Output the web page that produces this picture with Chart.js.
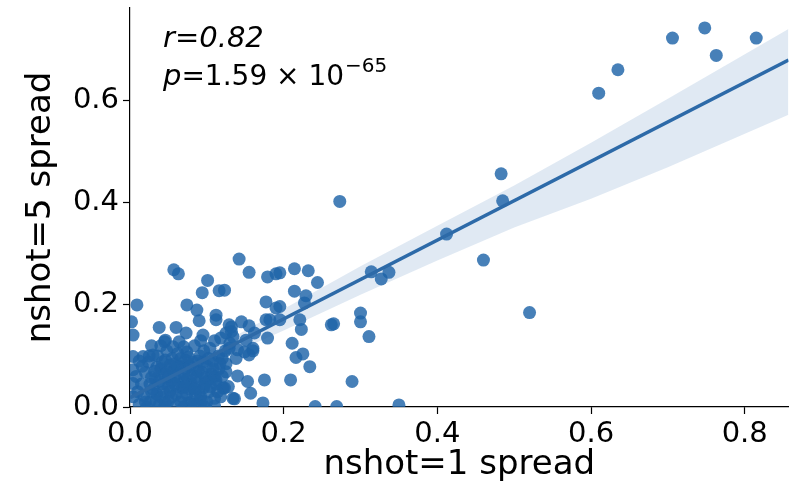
<!DOCTYPE html>
<html>
<head>
<meta charset="utf-8">
<script src="https://cdn.jsdelivr.net/npm/chart.js@4.4.1/dist/chart.umd.min.js"></script>
<style>
  html, body { margin: 0; padding: 0; background: #fff; }
  #wrap { width: 795px; height: 492px; }
</style>
</head>
<body>
<div id="wrap"><canvas id="spreadChart" width="795" height="492"></canvas></div>
<script>
// per-item spread, nshot=1 (x) against nshot=5 (y)
const spread1 = [
  0.610, 0.635, 0.706, 0.748, 0.763, 0.815, 0.273, 0.483, 0.485, 0.412,
  0.460, 0.520, 0.314, 0.327, 0.337, 0.300, 0.300, 0.265, 0.311, 0.289,
  0.269, 0.350, 0.241, 0.195, 0.214, 0.232, 0.244, 0.214, 0.229, 0.227,
  0.195, 0.195, 0.221, 0.223, 0.211, 0.216, 0.225, 0.234, 0.209, 0.142,
  0.155, 0.179, 0.190, 0.123, 0.177, 0.190, 0.177, 0.145, 0.129, 0.155,
  0.262, 0.057, 0.063, 0.101, 0.116, 0.094, 0.009, 0.074, 0.087, 0.112,
  0.090, 0.002, 0.038, 0.060, 0.179, 0.175, 0.140, 0.153, 0.125, 0.123,
  0.157, 0.136, 0.173, 0.132, 0.162, 0.149, 0.160, 0.140, 0.129, 0.073,
  0.095, 0.112, 0.125, 0.004, 0.045, 0.004, 0.004, 0.004, 0.004, 0.017,
  0.030, 0.046, 0.112, 0.121, 0.134, 0.110, 0.088, 0.134, 0.151, 0.160,
  0.155, 0.182, 0.132,
  // dense group near the origin
  0.012, 0.018, 0.015, 0.020, 0.024, 0.026, 0.030, 0.033, 0.035, 0.038,
  0.040, 0.042, 0.044, 0.046, 0.048, 0.050, 0.052, 0.054, 0.056, 0.058,
  0.060, 0.062, 0.064, 0.066, 0.068, 0.070, 0.072, 0.074, 0.076, 0.078,
  0.080, 0.082, 0.085, 0.087, 0.089, 0.091, 0.094, 0.096, 0.098, 0.100,
  0.103, 0.106, 0.108, 0.112, 0.116, 0.120, 0.118, 0.010, 0.008, 0.028,
  0.036, 0.056, 0.064, 0.084, 0.092, 0.104, 0.110, 0.124, 0.022, 0.045,
  0.070, 0.098, 0.040, 0.050, 0.060, 0.075, 0.090, 0.065, 0.080, 0.055,
  0.035, 0.028, 0.072, 0.086, 0.100, 0.110, 0.095, 0.115, 0.125, 0.138,
  0.130, 0.118,
  0.020, 0.028, 0.032, 0.038, 0.044, 0.046, 0.050, 0.054, 0.058, 0.062,
  0.066, 0.068, 0.070, 0.074, 0.078, 0.080, 0.083, 0.086, 0.088, 0.092,
  0.094, 0.097, 0.100, 0.102, 0.105, 0.108, 0.110, 0.114, 0.016, 0.025,
  0.042, 0.052, 0.062, 0.076, 0.096, 0.048, 0.034, 0.058, 0.072, 0.084,
  0.026, 0.012, 0.040, 0.070, 0.120, 0.128, 0.117
];
const spread5 = [
  0.615, 0.661, 0.723, 0.743, 0.689, 0.723, 0.403, 0.457, 0.404, 0.339,
  0.288, 0.185, 0.265, 0.251, 0.264, 0.184, 0.167, 0.163, 0.138, 0.050,
  0.001, 0.004, 0.001, 0.263, 0.271, 0.267, 0.244, 0.227, 0.218, 0.204,
  0.197, 0.171, 0.171, 0.152, 0.125, 0.097, 0.104, 0.079, 0.053, 0.290,
  0.264, 0.255, 0.261, 0.229, 0.206, 0.194, 0.171, 0.167, 0.161, 0.159,
  0.161, 0.269, 0.261, 0.248, 0.228, 0.224, 0.200, 0.200, 0.190, 0.180,
  0.169, 0.167, 0.156, 0.156, 0.135, 0.053, 0.061, 0.050, 0.069, 0.037,
  0.027, 0.016, 0.008, 0.148, 0.145, 0.108, 0.110, 0.112, 0.115, 0.145,
  0.141, 0.171, 0.145, 0.141, 0.128, 0.099, 0.073, 0.046, 0.020, 0.099,
  0.102, 0.131, 0.053, 0.037, 0.017, 0.017, 0.007, 0.138, 0.131, 0.115,
  0.102, 0.171, 0.157,
  0.005, 0.022, 0.045, 0.068, 0.088, 0.010, 0.035, 0.055, 0.078, 0.004,
  0.020, 0.045, 0.065, 0.092, 0.110, 0.012, 0.030, 0.050, 0.072, 0.085,
  0.002, 0.040, 0.060, 0.095, 0.020, 0.050, 0.075, 0.108, 0.008, 0.035,
  0.062, 0.088, 0.025, 0.048, 0.070, 0.100, 0.012, 0.038, 0.058, 0.080,
  0.030, 0.065, 0.090, 0.045, 0.075, 0.095, 0.020, 0.030, 0.060, 0.120,
  0.100, 0.118, 0.128, 0.120, 0.130, 0.115, 0.130, 0.110, 0.000, 0.000,
  0.000, 0.000, 0.075, 0.060, 0.025, 0.055, 0.030, 0.080, 0.010, 0.095,
  0.025, 0.058, 0.092, 0.072, 0.050, 0.060, 0.088, 0.100, 0.085, 0.095,
  0.125, 0.135,
  0.010, 0.030, 0.070, 0.050, 0.030, 0.008, 0.040, 0.020, 0.060, 0.078,
  0.010, 0.038, 0.065, 0.025, 0.080, 0.045, 0.005, 0.058, 0.090, 0.020,
  0.068, 0.045, 0.010, 0.095, 0.040, 0.075, 0.002, 0.030, 0.080, 0.100,
  0.088, 0.082, 0.105, 0.098, 0.110, 0.068, 0.012, 0.045, 0.040, 0.035,
  0.045, 0.090, 0.120, 0.118, 0.060, 0.040, 0.085
];

// regression line and its confidence band
const fitX = [0, 0.857];
const fitY = [0.018, 0.680];
const bandX = [0, 0.1, 0.2, 0.3, 0.4, 0.5, 0.6, 0.7, 0.857];
const bandLow = [-0.002, 0.083, 0.150, 0.220, 0.287, 0.352, 0.408, 0.470, 0.573];
const bandHigh = [0.036, 0.108, 0.192, 0.276, 0.355, 0.434, 0.518, 0.604, 0.741];

const xTicks = [0, 0.2, 0.4, 0.6, 0.8];
const yTicks = [0, 0.2, 0.4, 0.6];
const statR = '0.82';
const statP = '1.59';
const statExp = '\u221265';

const FONT = '"DejaVu Sans", "Liberation Sans", sans-serif';
Chart.defaults.font.family = FONT;
Chart.defaults.color = '#000';

const pointColor = 'rgba(30, 100, 168, 0.82)';
const lineColor = '#2d6aa8';
const bandColor = 'rgba(50, 110, 175, 0.15)';

const points = spread1.map((x, i) => ({ x: x, y: spread5[i] }));
const fitLine = fitX.map((x, i) => ({ x: x, y: fitY[i] }));
const bandUpper = bandX.map((x, i) => ({ x: x, y: bandHigh[i] }));
const bandLower = bandX.map((x, i) => ({ x: x, y: bandLow[i] }));

// r / p text in the upper left corner
const statsLabel = {
  id: 'statsLabel',
  afterDraw(chart) {
    const { ctx, chartArea } = chart;
    const x0 = chartArea.left + 33;
    ctx.save();
    ctx.fillStyle = '#000';
    ctx.textBaseline = 'alphabetic';
    ctx.font = 'italic 29px ' + FONT;
    ctx.fillText('r=' + statR, x0, chartArea.top + 39);

    const y2 = chartArea.top + 77;
    let x = x0;
    ctx.fillText('p', x, y2);
    x += ctx.measureText('p').width;
    ctx.font = '28px ' + FONT;
    const mid = '=' + statP + ' \u00d7 10';
    ctx.fillText(mid, x, y2);
    x += ctx.measureText(mid).width;
    ctx.font = '20px ' + FONT;
    ctx.fillText(statExp, x + 1, y2 - 13);
    ctx.restore();
  }
};

const axisCommon = {
  type: 'linear',
  min: 0,
  grid: {
    drawOnChartArea: false,
    drawTicks: true,
    tickLength: 7,
    tickColor: '#000',
    tickWidth: 1.2
  },
  border: { display: true, color: '#000', width: 1.2 }
};

new Chart(document.getElementById('spreadChart'), {
  type: 'scatter',
  data: {
    datasets: [
      {
        label: 'ci high',
        data: bandUpper,
        showLine: true,
        pointRadius: 0,
        borderColor: 'transparent',
        borderWidth: 0,
        backgroundColor: bandColor,
        fill: '+1',
        order: 3
      },
      {
        label: 'ci low',
        data: bandLower,
        showLine: true,
        pointRadius: 0,
        borderColor: 'transparent',
        borderWidth: 0,
        fill: false,
        order: 3
      },
      {
        label: 'items',
        data: points,
        pointRadius: 6.5,
        pointBackgroundColor: pointColor,
        pointBorderWidth: 0,
        order: 2
      },
      {
        label: 'fit',
        data: fitLine,
        showLine: true,
        pointRadius: 0,
        borderColor: lineColor,
        borderWidth: 3.5,
        order: 1
      }
    ]
  },
  options: {
    responsive: false,
    animation: false,
    events: [],
    layout: { padding: { top: 8, right: 6, left: 0, bottom: 0 } },
    plugins: {
      legend: { display: false },
      tooltip: { enabled: false }
    },
    scales: {
      x: {
        ...axisCommon,
        position: 'bottom',
        max: 0.857,
        afterFit: s => { s.height = 85; },
        afterBuildTicks: s => { s.ticks = xTicks.map(v => ({ value: v })); },
        ticks: {
          font: { size: 29 },
          color: '#000',
          padding: 3,
          maxRotation: 0,
          autoSkip: false,
          callback: v => v.toFixed(1)
        },
        title: {
          display: true,
          text: 'nshot=1 spread',
          font: { size: 34 },
          color: '#000',
          padding: { top: 0, bottom: 6 }
        }
      },
      y: {
        ...axisCommon,
        position: 'left',
        max: 0.782,
        // keep the plot top flush with the layout padding
        afterFit: s => { s.width = 130; s.paddingTop = 0; s.paddingBottom = 0; },
        afterBuildTicks: s => { s.ticks = yTicks.map(v => ({ value: v })); },
        ticks: {
          font: { size: 29 },
          color: '#000',
          padding: 4,
          autoSkip: false,
          callback: v => v.toFixed(1)
        },
        title: {
          display: true,
          text: 'nshot=5 spread',
          font: { size: 34 },
          color: '#000',
          padding: { top: 21, bottom: 0 }
        }
      }
    }
  },
  plugins: [statsLabel]
});
</script>
</body>
</html>
